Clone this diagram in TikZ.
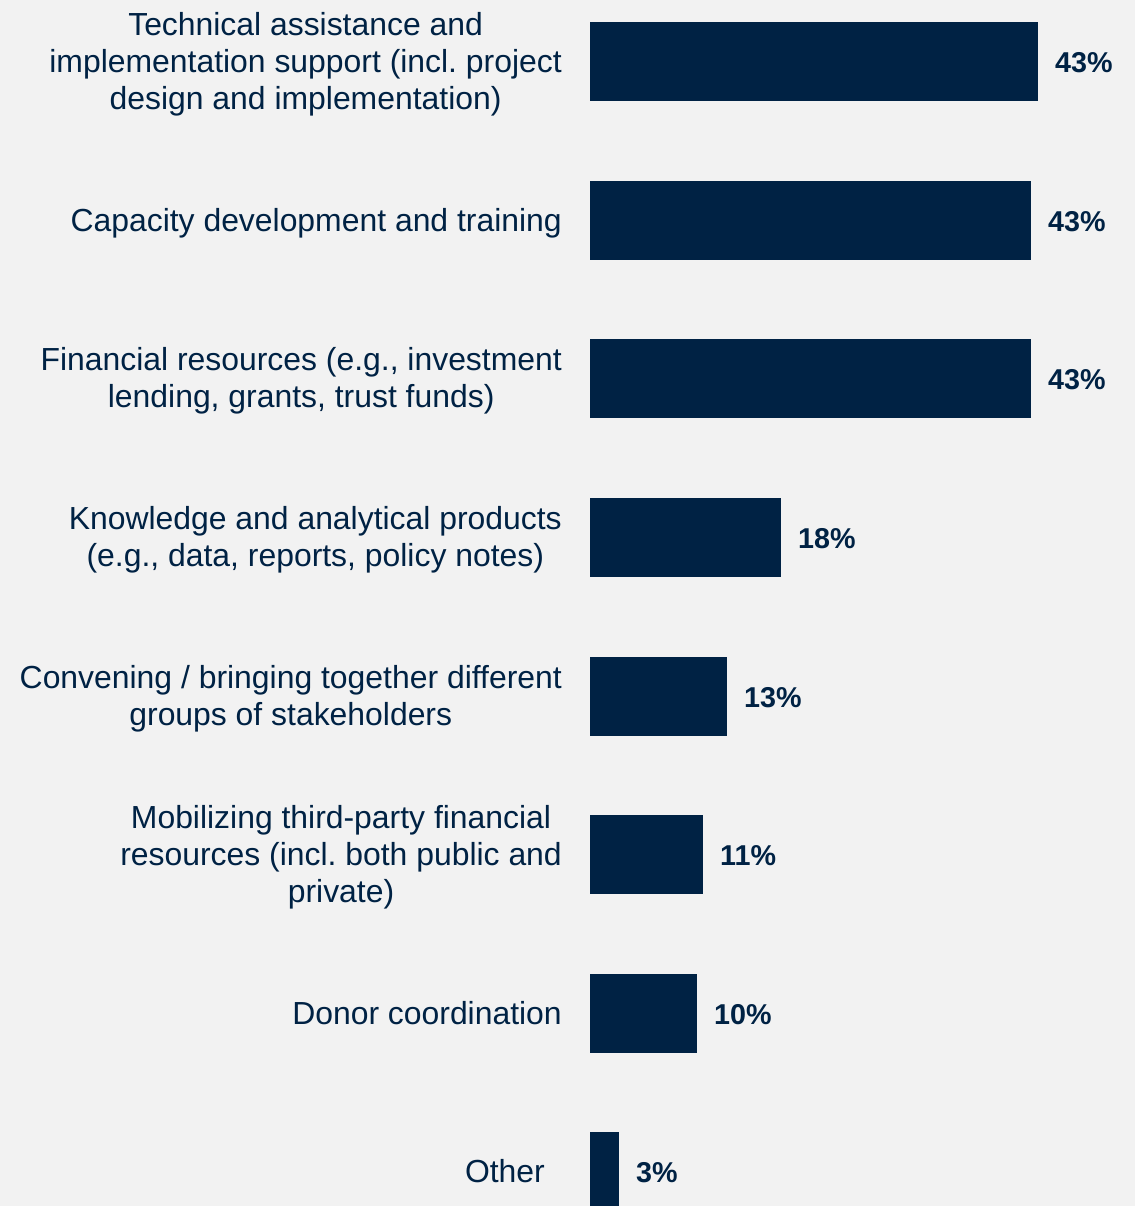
\documentclass[tikz,border=0pt]{standalone}
\usepackage{fontspec}
\setmainfont{Liberation Sans}
\frenchspacing
\definecolor{navy}{RGB}{0,34,68}
\definecolor{bg}{RGB}{242,242,242}
\tikzset{
  bar/.style={fill=navy, draw=none},
  lbl/.style={anchor=east, inner sep=0pt, align=center, text=navy,
    font=\fontsize{31.9pt}{36.8pt}\selectfont},
  val/.style={anchor=west, inner sep=0pt, text=navy,
    font=\fontsize{28.7pt}{34pt}\selectfont\bfseries},
}
\begin{document}
\begin{tikzpicture}[x=1pt,y=-1pt]
\fill[bg] (0,0) rectangle (1135,1206);
\useasboundingbox (0,0) rectangle (1135,1206);
\begin{scope}
\clip (0,0) rectangle (1135,1206);
% bars
\path[bar] (590,22) rectangle (1038,101) coordinate (e1);
\path[bar] (590,181) rectangle (1031,260) coordinate (e2);
\path[bar] (590,339) rectangle (1031,418) coordinate (e3);
\path[bar] (590,498) rectangle (781,577) coordinate (e4);
\path[bar] (590,657) rectangle (727,736) coordinate (e5);
\path[bar] (590,815) rectangle (703,894) coordinate (e6);
\path[bar] (590,974) rectangle (697,1053) coordinate (e7);
\path[bar] (590,1132) rectangle (619,1211) coordinate (e8);
\end{scope}
% labels
\node[lbl] (l1) at (562,64) {Technical assistance and\\implementation support (incl. project\\design and implementation)};
\node[lbl] (l2) at (562,223) {Capacity development and training};
\node[lbl] (l3) at (562,381) {Financial resources (e.g., investment\\lending, grants, trust funds)};
\node[lbl] (l4) at (562,540) {Knowledge and analytical products\\(e.g., data, reports, policy notes)};
\node[lbl] (l5) at (562,699) {Convening / bringing together different\\groups of stakeholders};
\node[lbl] (l6) at (562,857) {Mobilizing third-party financial\\resources (incl. both public and\\private)};
\node[lbl] (l7) at (562,1013) {Donor coordination};
\node[lbl] (l8) at (545,1171) {Other};
% values
\node[val] (v1) at (1055,63) {43\%};
\node[val] (v2) at (1048,222) {43\%};
\node[val] (v3) at (1048,380) {43\%};
\node[val] (v4) at (798,539) {18\%};
\node[val] (v5) at (744,698) {13\%};
\node[val] (v6) at (720,856) {11\%};
\node[val] (v7) at (714,1015) {10\%};
\node[val] (v8) at (636,1173) {3\%};
\end{tikzpicture}
\end{document}
